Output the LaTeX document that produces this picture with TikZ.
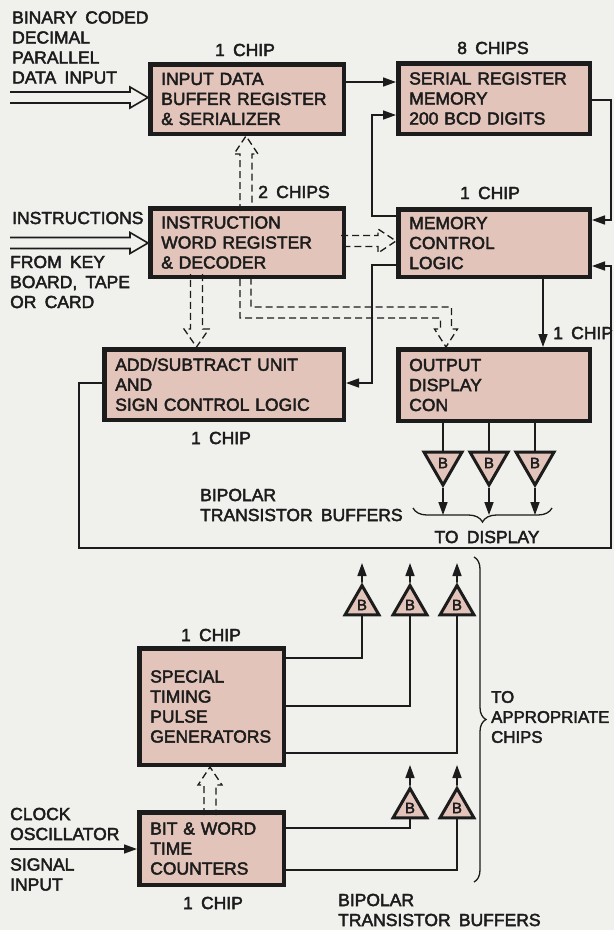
\documentclass[tikz,border=0pt]{standalone}
\usepackage{fontspec}
\setmainfont{Liberation Sans}[WordSpace=1.7, FakeBold=2.5]
\usetikzlibrary{
  arrows.meta,
  positioning,
  shapes.geometric,
  decorations.pathreplacing
}
\definecolor{paper}{RGB}{240, 240, 237}
\definecolor{chipfill}{RGB}{226, 196, 186}
\definecolor{ink}{RGB}{28, 28, 28}
% outline of a wide (bus) arrow: style, tip, angle, length, half shaft, half head
\newcommand{\fatarrow}[6]{%
  \draw[#1, shift={#2}, rotate=#3]
    (-#4,-#5) -- (-18,-#5) -- (-18,-#6) -- (0,0) -- (-18,#6) -- (-18,#5) -- (-#4,#5);}

\begin{document}
\begin{tikzpicture}[x=1pt, y=-1pt,
  font=\fontsize{17.5}{20}\selectfont,
  chipbox/.style={draw=ink, fill=chipfill, line width=4.5pt, align=left,
    inner xsep=11pt, inner ysep=0pt, text=ink},
  lbl/.style={inner sep=0pt, align=left, text=ink},
  wire/.style={draw=ink, line width=1.6pt},
  arr/.style={wire, -{Triangle[length=13pt, width=9pt]}},
  buf/.style={regular polygon, regular polygon sides=3, draw=ink, fill=chipfill,
    line width=3pt, inner sep=0pt, text=ink, font=\fontsize{15}{15}\selectfont},
  hollow/.style={draw=ink, line width=1.6pt, miter limit=20},
  dashbus/.style={draw=ink, line width=1.3pt, dash pattern=on 7pt off 4pt}]
  \fill[paper] (0,0) rectangle (614,930);
  \useasboundingbox (0,0) rectangle (614,930);

  % ---------- chips ----------
  \node[chipbox, text width=171.5pt, minimum height=69.5pt] (idb) at (247,99)
    {INPUT DATA\\BUFFER REGISTER\\\& SERIALIZER};
  \node[chipbox, text width=169.5pt, minimum height=70.5pt] (srm) at (494,98.5)
    {SERIAL REGISTER\\MEMORY\\200 BCD DIGITS};
  \node[chipbox, text width=171.5pt, minimum height=68.5pt] (iwr) at (247,242.5)
    {INSTRUCTION\\WORD REGISTER\\\& DECODER};
  \node[chipbox, text width=169.5pt, minimum height=67.5pt] (mcl) at (494,243)
    {MEMORY\\CONTROL\\LOGIC};
  \node[chipbox, text width=217.5pt, minimum height=70.5pt] (asu) at (224,384.5)
    {ADD/SUBTRACT UNIT\\AND\\SIGN CONTROL LOGIC};
  \node[chipbox, text width=169.5pt, minimum height=71.5pt] (odc) at (494,385)
    {OUTPUT\\DISPLAY\\CON};
  \node[chipbox, text width=122.5pt, minimum height=116.5pt] (stpg) at (211.5,706.5)
    {SPECIAL\\TIMING\\PULSE\\GENERATORS};
  \node[chipbox, text width=122.5pt, minimum height=72.5pt] (bwt) at (211.5,848.5)
    {BIT \& WORD\\TIME\\COUNTERS};

  % ---------- chip counts ----------
  \node[lbl] (idbn) at (245,50) {1 CHIP};
  \node[lbl] (srmn) at (493,48) {8 CHIPS};
  \node[lbl, anchor=west] (iwrn) at (258,192) {2 CHIPS};
  \node[lbl] (mcln) at (490,193) {1 CHIP};
  \node[lbl, anchor=west] (odcn) at (553,333) {1 CHIP};
  \node[lbl] (asun) at (221,438) {1 CHIP};
  \node[lbl] (stpgn) at (211,635) {1 CHIP};
  \node[lbl] (bwtn) at (213,903) {1 CHIP};

  % ---------- side texts ----------
  \node[lbl, anchor=west] (bcdin) at (12,47.5) {BINARY CODED\\DECIMAL\\PARALLEL\\DATA INPUT};
  \node[lbl, anchor=west] (insin) at (12,218) {INSTRUCTIONS};
  \node[lbl, anchor=west] (keyin) at (10,282) {FROM KEY\\BOARD, TAPE\\OR CARD};
  \node[lbl, anchor=west] (bpt1) at (200,505) {BIPOLAR\\TRANSISTOR BUFFERS};
  \node[lbl] (todisp) at (487,537) {TO DISPLAY};
  \node[lbl, anchor=west, font=\fontsize{16.8}{20}\selectfont] (tochips) at (491,717)
    {TO\\APPROPRIATE\\CHIPS};
  \node[lbl, anchor=west] (clkin) at (10,824) {CLOCK\\OSCILLATOR};
  \node[lbl, anchor=west] (sigin) at (10,874.5) {SIGNAL\\INPUT};
  \node[lbl, anchor=west] (bpt2) at (338,910) {BIPOLAR\\TRANSISTOR BUFFERS};

  % ---------- bus arrows ----------
  \fatarrow{hollow}{(idb.west |- 0,97.5)}{0}{138}{5.5}{10.5}
  \fatarrow{hollow}{(iwr.west |- 0,243)}{0}{138}{5.5}{10.5}
  \fatarrow{dashbus}{(idb.south -| 246,0)}{90}{75}{6}{12}
  \fatarrow{dashbus}{(mcl.west |- 0,241)}{0}{55}{5.5}{12}
  \fatarrow{dashbus}{(asu.north -| 196.5,0)}{-90}{73}{6}{12.5}
  \fatarrow{dashbus}{(stpg.south -| 210,0)}{90}{48}{6}{12}
  \draw[dashbus] (iwr.south -| 240,0) |- (440.5,318) -- (440.5,329) -- (434.5,329)
    -- (odc.north -| 446,0) -- (457.5,329) -- (451.5,329) |- (251,307)
    -- (iwr.south -| 251,0);

  % ---------- wires ----------
  \draw[arr] (idb.east |- 0,82) -- (srm.west |- 0,82);
  \draw[arr] (mcl.west |- 0,216) -- ++(-24,0) |- (srm.west |- 0,115);
  \draw[arr] (mcl.west |- 0,265) -- ++(-24,0) |- (asu.east |- 0,383);
  \draw[arr] (srm.east |- 0,100) -| (611,220) -- (mcl.east |- 0,220);
  \draw[arr] (asu.west |- 0,383) -| (79,548) -| (611,266) -- (mcl.east |- 0,266);
  \draw[arr] (mcl.south -| 543,0) -- (odc.north -| 543,0);
  \coordinate (cin) at (10,849);
  \draw[arr] (cin) -- (bwt.west |- cin);

  % ---------- display buffers ----------
  \foreach \i/\x in {1/443, 2/489, 3/535} {
    \node[buf, minimum size=44pt, shape border rotate=180] (bd\i) at (\x,463) {B};
    \coordinate (td\i) at (\x,515);
    \draw[wire] (odc.south -| bd\i) -- (bd\i.north);
    \draw[arr] (bd\i.south) -- (td\i);
  }
  \draw[wire, line width=1.3pt, decorate, decoration={brace, amplitude=14pt, mirror}]
    (413,508) -- (552,508);

  % ---------- timing buffers ----------
  \foreach \i/\x/\ly in {1/362/658, 2/410/706, 3/457/753} {
    \node[buf, minimum size=39pt] (bu\i) at (\x,605) {B};
    \coordinate (tu\i) at (\x,563);
    \draw[wire] (stpg.east |- 0,\ly) -| (bu\i.south);
    \draw[arr] (bu\i.north) -- (tu\i);
  }
  \foreach \i/\x/\ly in {4/410/828, 5/457/870} {
    \node[buf, minimum size=39pt] (bu\i) at (\x,808) {B};
    \coordinate (tu\i) at (\x,765);
    \draw[wire] (bwt.east |- 0,\ly) -| (bu\i.south);
    \draw[arr] (bu\i.north) -- (tu\i);
  }
  \draw[wire, line width=1.3pt, decorate, decoration={brace, amplitude=12pt}]
    (474,557) -- (474,882);
\end{tikzpicture}
\end{document}
